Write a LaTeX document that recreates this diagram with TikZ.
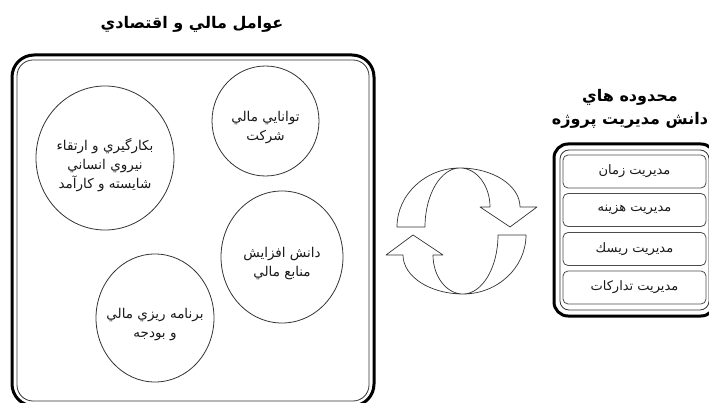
\documentclass[tikz,border=0pt]{standalone}
\usepackage{fontspec}
\usetikzlibrary{shapes.geometric}
\newfontfamily\arabicfont[Script=Arabic]{DejaVu Sans}
\TeXXeTstate=1
\newcommand{\fa}[1]{\beginR #1\endR}

\begin{document}
\begin{tikzpicture}[x=1pt, y=-1pt,
    factor/.style={ellipse, draw=black!80, line width=0.8pt, inner sep=0pt},
    factortext/.style={align=center, yshift=-7pt, font=\arabicfont\fontsize{13.5}{19}\selectfont, text=black!90},
    frameout/.style={draw=black, line width=3pt, rounded corners=22pt},
    framein/.style={draw=black!80, line width=0.8pt, rounded corners=16pt},
    area/.style={draw=black!70, line width=0.8pt, rounded corners=5pt, minimum width=143pt,
                 minimum height=33pt, font=\arabicfont\fontsize{13}{15}\selectfont, text=black!90},
    heading/.style={align=center, font=\arabicfont\bfseries\fontsize{16}{23}\selectfont},
    cyclearrow/.style={draw=black!80, line width=0.7pt, fill=white, line join=round}]
    \useasboundingbox (0,0) rectangle (709,403);
    \clip (0,0) rectangle (709,403);

    % financial and economic factors
    \node[heading] (facttitle) at (192,24) {\fa{عوامل مالي و اقتصادي}};
    \node[frameout, minimum width=362pt, minimum height=351pt] (factframe) at (193,230.5) {};
    \node[framein, minimum width=352pt, minimum height=341pt] (factinner) at (193,230.5) {};

    \node[factor, minimum width=138pt, minimum height=144pt] (staff) at (105,158) {};
    \node[factortext] (stafftext) at (staff) {\fa{بكارگيري و ارتقاء}\\ \fa{نيروي انساني}\\ \fa{شايسته و كارآمد}};
    \node[factor, minimum width=107pt, minimum height=110pt] (ability) at (265.5,121) {};
    \node[factortext] (abilitytext) at (ability) {\fa{توانايي مالي}\\ \fa{شركت}};
    \node[factor, minimum width=122pt, minimum height=132pt] (funds) at (282,257) {};
    \node[factortext] (fundstext) at (funds) {\fa{دانش افزايش}\\ \fa{منابع مالي}};
    \node[factor, minimum width=118pt, minimum height=128pt] (budget) at (155,318) {};
    \node[factortext] (budgettext) at (budget) {\fa{برنامه ريزي مالي}\\ \fa{و بودجه}};

    % cycle arrows
    \foreach \ang in {0,180} {
        \begin{scope}[rotate around={\ang:(461.5,231)}]
            \draw[cyclearrow] (397,227) .. controls (397,194.5) and (425.4,168) .. (460,168)
                .. controls (493,168) and (520,185.5) .. (520,207)
                -- (537,207) -- (510,227) -- (480,207) -- (490,207)
                .. controls (490,185.5) and (476.5,168) .. (460,168)
                .. controls (440.75,168) and (425,194.5) .. (425,227) -- cycle;
        \end{scope}
    }

    % project management knowledge areas
    \node[heading] (areatitle) at (630,109) {\fa{محدوده هاي}\\ \fa{دانش مديريت پروژه}};
    \node[frameout, rounded corners=14pt, minimum width=161pt, minimum height=172pt] (areaframe) at (634.5,230) {};
    \node[framein, rounded corners=9pt, minimum width=149pt, minimum height=160pt] (areainner) at (634.5,230) {};

    \node[area] (time) at (634.5,171.5) {\fa{مديريت زمان}};
    \node[area] (cost) at (634.5,210) {\fa{مديريت هزينه}};
    \node[area] (risk) at (634.5,249) {\fa{مديريت ريسك}};
    \node[area] (procure) at (634.5,287.5) {\fa{مديريت تداركات}};
\end{tikzpicture}
\end{document}
